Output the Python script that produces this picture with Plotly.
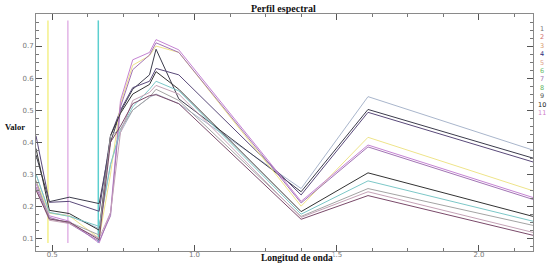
import plotly.graph_objects as go

# Sentinel-2 band centre wavelengths (micrometres)
wavelengths = [0.443, 0.490, 0.560, 0.665, 0.705, 0.740, 0.783, 0.842, 0.865, 0.945, 1.375, 1.610, 2.190]

series_names = ["1", "2", "3", "4", "5", "6", "7", "8", "9", "10", "11"]
s1 = [0.30, 0.180, 0.170, 0.130, 0.33, 0.43, 0.500, 0.540, 0.550, 0.520, 0.255, 0.542, 0.375]
s2 = [0.36, 0.214, 0.228, 0.208, 0.40, 0.495, 0.565, 0.610, 0.690, 0.535, 0.245, 0.502, 0.350]
s3 = [0.42, 0.212, 0.215, 0.184, 0.42, 0.50, 0.570, 0.590, 0.630, 0.610, 0.235, 0.493, 0.338]
s4 = [0.28, 0.178, 0.170, 0.100, 0.30, 0.52, 0.640, 0.670, 0.700, 0.680, 0.200, 0.415, 0.248]
s5 = [0.27, 0.170, 0.153, 0.085, 0.18, 0.53, 0.657, 0.680, 0.720, 0.688, 0.215, 0.391, 0.227]
s6 = [0.26, 0.165, 0.146, 0.090, 0.17, 0.51, 0.626, 0.672, 0.710, 0.680, 0.210, 0.385, 0.221]
s7 = [0.38, 0.187, 0.177, 0.125, 0.42, 0.49, 0.550, 0.580, 0.620, 0.565, 0.183, 0.304, 0.168]
s8 = [0.30, 0.180, 0.168, 0.137, 0.33, 0.44, 0.510, 0.565, 0.590, 0.560, 0.175, 0.279, 0.153]
s9 = [0.28, 0.160, 0.150, 0.110, 0.42, 0.44, 0.500, 0.540, 0.565, 0.530, 0.168, 0.255, 0.140]
s10 = [0.255, 0.156, 0.146, 0.100, 0.18, 0.43, 0.530, 0.555, 0.577, 0.550, 0.165, 0.245, 0.118]
s11 = [0.25, 0.160, 0.150, 0.095, 0.40, 0.45, 0.520, 0.545, 0.548, 0.520, 0.159, 0.233, 0.109]
all_series = [s1, s2, s3, s4, s5, s6, s7, s8, s9, s10, s11]

line_colors = ["#a9b6cc", "#3c3c4c", "#5a4a7a", "#eee48a", "#c583d3", "#a274b4",
               "#333333", "#7cc8c8", "#a4a4a4", "#c4a2b6", "#7a4a6a"]
legend_colors = ["#707070", "#d06a6a", "#d89a6a", "#30307a", "#e0a088", "#6cc06c",
                 "#a070b0", "#5cb05c", "#505050", "#202020", "#d080c8"]

# RGB display band markers
marker_wavelengths = [0.485, 0.555, 0.662]
marker_colors = ["#f4f08a", "#e2b4e6", "#5ccfcf"]
marker_range = [0.085, 0.78]

xticks = [0.5, 1.0, 1.5, 2.0]
xticklabels = ["0.5", "1.0", "1.5", "2.0"]
yticks = [0.1, 0.2, 0.3, 0.4, 0.5, 0.6, 0.7]
yticklabels = ["0.1", "0.2", "0.3", "0.4", "0.5", "0.6", "0.7"]

fig = go.Figure()
for wl, c in zip(marker_wavelengths, marker_colors):
    fig.add_trace(go.Scatter(x=[wl, wl], y=marker_range, mode="lines",
                             line=dict(color=c, width=1.5), showlegend=False, hoverinfo="skip"))
for name, vals, c in zip(series_names, all_series, line_colors):
    fig.add_trace(go.Scatter(x=wavelengths, y=vals, mode="lines", name=name,
                             line=dict(color=c, width=1), showlegend=False))

axis_common = dict(showgrid=False, zeroline=False, showline=True, linecolor="#8a8a8a",
                   linewidth=1, mirror="allticks", ticks="inside", tickcolor="#555555",
                   ticklen=6, tickwidth=1,
                   tickfont=dict(family="DejaVu Sans", size=7, color="#777777"))

fig.update_xaxes(range=[0.443, 2.19], tickvals=xticks, ticktext=xticklabels,
                 ticklabelstandoff=-3,
                 minor=dict(dtick=0.125, ticks="inside", ticklen=3, tickcolor="#777777"),
                 **axis_common)
fig.update_yaxes(range=[0.06, 0.8], tickvals=yticks, ticktext=yticklabels,
                 minor=dict(dtick=0.025, ticks="inside", ticklen=3, tickcolor="#777777"),
                 **axis_common)

fig.update_layout(
    width=550, height=271,
    margin=dict(l=36, r=17, t=14, b=18),
    paper_bgcolor="white", plot_bgcolor="white",
)

PW, PH = 497.0, 239.0  # plot area size in px


def px_x(px):
    return (px - 36) / PW


def px_y(py):
    return (253 - py) / PH


fig.add_annotation(text="<b>Perfil espectral</b>", xref="paper", yref="paper",
                   x=px_x(283), y=px_y(8), xanchor="center", yanchor="middle", showarrow=False,
                   font=dict(family="Liberation Serif", size=10, color="#111111"))
fig.add_annotation(text="<b>Valor</b>", xref="paper", yref="paper", x=px_x(3), y=px_y(128),
                   xanchor="left", yanchor="middle", showarrow=False,
                   font=dict(family="Liberation Serif", size=8.5, color="#111111"))
fig.add_annotation(text="<b>Longitud de onda</b>", xref="paper", yref="paper",
                   x=px_x(297), y=px_y(260), xanchor="center", yanchor="middle",
                   showarrow=False, bgcolor="white", borderpad=0,
                   font=dict(family="Liberation Serif", size=9.5, color="#111111"))

for i, (name, c) in enumerate(zip(series_names, legend_colors)):
    fig.add_annotation(text=name, xref="paper", yref="paper", x=px_x(542),
                       y=px_y(29 + i * 8.5), xanchor="center", yanchor="middle",
                       showarrow=False,
                       font=dict(family="DejaVu Sans", size=6.5, color=c))

fig.write_html("out.html", config={"displayModeBar": False},
               post_script="document.body.style.margin='0';document.body.style.overflow='hidden';")
